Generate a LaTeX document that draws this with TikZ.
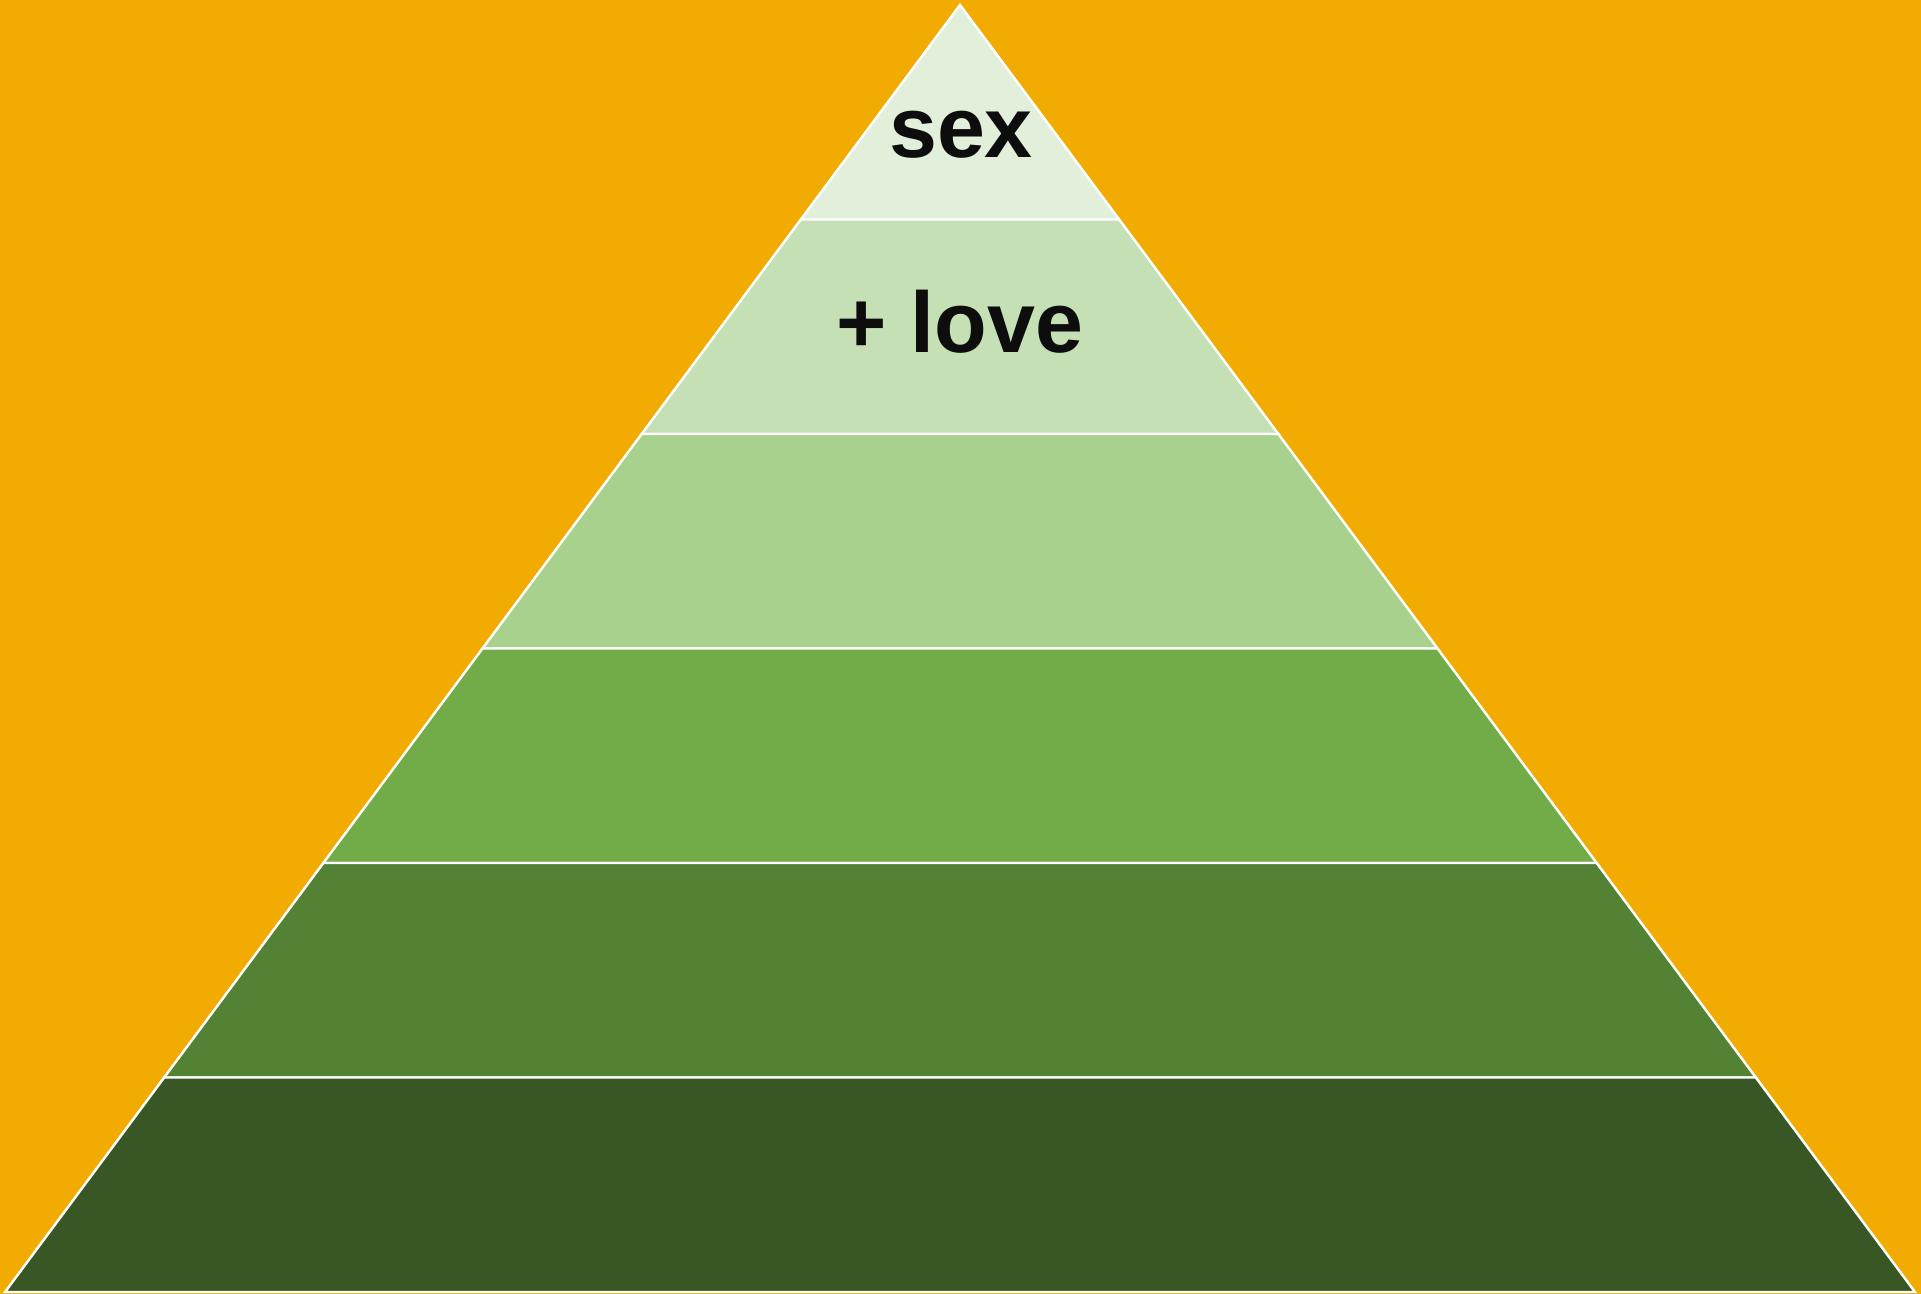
\documentclass[tikz,border=0pt]{standalone}
\usepackage{fontspec}
\setmainfont{Liberation Sans}

\definecolor{bgorange}{RGB}{242,171,0}
\definecolor{layerA}{RGB}{226,239,218}
\definecolor{layerB}{RGB}{197,224,180}
\definecolor{layerC}{RGB}{169,209,142}
\definecolor{layerD}{RGB}{114,172,72}
\definecolor{layerE}{RGB}{84,130,53}
\definecolor{layerF}{RGB}{57,87,36}

\tikzset{
  layer/.style={draw=white, line width=0.7pt},
  label/.style={font=\fontsize{24.5}{28}\selectfont\bfseries, text=black!95, inner sep=0pt}
}

\begin{document}
\begin{tikzpicture}[x=0.01cm,y=-0.01cm]
  \fill[bgorange] (0,0) rectangle (1921,1294);

  \foreach \i/\col in {0/layerA,1/layerB,2/layerC,3/layerD,4/layerE,5/layerF} {
    \pgfmathsetmacro{\yt}{5+214.5*\i}
    \pgfmathsetmacro{\yb}{5+214.5*(\i+1)}
    \pgfmathsetmacro{\wt}{(\yt-5)*0.742036}
    \pgfmathsetmacro{\wb}{(\yb-5)*0.742036}
    \draw[layer, fill=\col] (960-\wt,\yt) -- (960+\wt,\yt) -- (960+\wb,\yb) -- (960-\wb,\yb) -- cycle;
  }

  \node[label, anchor=base] (sex) at (961,158) {sex};
  \node[label, anchor=base] (love) at (960,352) {+ love};
\end{tikzpicture}
\end{document}
